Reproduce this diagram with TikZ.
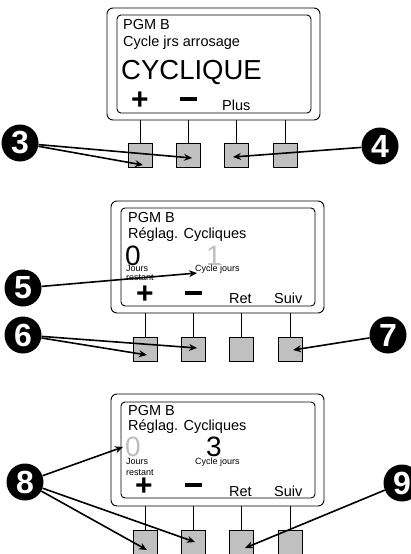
\documentclass[tikz,border=0pt]{standalone}
\usepackage{fontspec}
\setmainfont{Liberation Sans}
\usetikzlibrary{arrows.meta}
\definecolor{keygray}{RGB}{192,192,192}
\definecolor{dimgray}{RGB}{190,190,190}

\begin{document}
\begin{tikzpicture}[x=1pt, y=-1pt,
    panel/.style={draw, rounded corners=6pt, minimum width=213pt, minimum height=112pt, line width=0.9pt},
    screen/.style={rounded corners=4pt, line width=0.9pt},
    key/.style={draw, fill=keygray, minimum size=24pt, inner sep=0pt, line width=0.7pt},
    stem/.style={line width=0.7pt},
    badge/.style={circle, fill=black, text=white, minimum size=37pt, inner sep=0pt, font=\fontsize{32}{32}\selectfont\bfseries},
    pointer/.style={-{Stealth[length=8pt, width=7pt]}, line width=1.6pt},
    lcd/.style={anchor=base west, inner sep=0pt, font=\fontsize{14.5}{15}\selectfont},
    tiny/.style={anchor=base west, inner sep=0pt, font=\fontsize{9}{10}\selectfont},
    big/.style={anchor=base west, inner sep=0pt, font=\fontsize{28}{28}\selectfont},
    plus/.style={inner sep=0pt, font=\fontsize{30}{30}\selectfont\bfseries},
    minus/.style={fill=black, minimum width=17pt, minimum height=4.5pt, inner sep=0pt}]
    \useasboundingbox (0,0) rectangle (411,554);

    % Cycle jrs arrosage
    \begin{scope}[shift={(107,8)}]
        \node[panel] (p1) at (106.5,56) {};
        \draw[screen] (10,7) rectangle (204,105);
        \node[lcd] (p1l1) at (16,21.5) {PGM B};
        \node[lcd] (p1l2) at (16,38.7) {Cycle jrs arrosage};
        \node[lcd, font=\fontsize{27.5}{28}\selectfont] (p1l3) at (14,71) {CYCLIQUE};
        \node[plus] (p1plus) at (33,93) {+};
        \node[minus] (p1minus) at (81.5,91) {};
        \node[lcd] (p1more) at (115,102) {Plus};
        \foreach \i/\x in {1/33,2/81.5,3/129.5,4/178.5} {
            \node[key] (p1b\i) at (\x,147.5) {};
            \draw[stem] (p1b\i.north) -- (p1b\i.north |- p1.south);
        }
        \node[badge] (c3) at (-87,135) {3};
        \node[badge] (c4) at (273,138) {4};
        \coordinate (p1t1) at (36,157);
        \coordinate (p1t2) at (85,150);
        \coordinate (p1t3) at (126,149);
        \draw[pointer] (c3) -- (p1t1);
        \draw[pointer] (c3) -- (p1t2);
        \draw[pointer] (c4) -- (p1t3);
    \end{scope}

    % Reglag. Cycliques, cycle
    \begin{scope}[shift={(111,201)}]
        \node[panel] (p2) at (106.5,56) {};
        \draw[screen] (10,7) rectangle (204,105);
        \node[lcd] (p2l1) at (17,21) {PGM B};
        \node[lcd] (p2l2) at (17,37.3) {Réglag. Cycliques};
        \node[big] (p2left) at (14,64) {0};
        \node[big, text=dimgray] (p2right) at (95,64) {1};
        \node[tiny] (p2lefttxt) at (15,70.7) {Jours};
        \node[tiny] (p2lefttxt2) at (15,79.5) {restant};
        \node[tiny] (p2righttxt) at (84,70.7) {Cycle jours};
        \node[plus] (p2plus) at (34,94) {+};
        \node[minus] (p2minus) at (82,92) {};
        \node[lcd] (p2back) at (118,102.3) {Ret};
        \node[lcd] (p2next) at (163,102.3) {Suiv};
        \foreach \i/\x in {1/34,2/82,3/130,4/179} {
            \node[key] (p2b\i) at (\x,148.5) {};
            \draw[stem] (p2b\i.north) -- (p2b\i.north |- p2.south);
        }
        \node[badge] (c5) at (-88,87) {5};
        \node[badge] (c6) at (-88,134) {6};
        \node[badge] (c7) at (277,134) {7};
        \coordinate (p2t0) at (86,72);
        \coordinate (p2t1) at (36,154);
        \coordinate (p2t2) at (86,147);
        \coordinate (p2t4) at (182,149);
        \draw[pointer] (c5) -- (p2t0);
        \draw[pointer] (c6) -- (p2t1);
        \draw[pointer] (c6) -- (p2t2);
        \draw[pointer] (c7) -- (p2t4);
    \end{scope}

    % Reglag. Cycliques, days left
    \begin{scope}[shift={(111,394)}]
        \node[panel] (p3) at (106.5,56) {};
        \draw[screen] (10,8) rectangle (204,104);
        \node[lcd] (p3l1) at (17,21) {PGM B};
        \node[lcd] (p3l2) at (17,36.7) {Réglag. Cycliques};
        \node[big, text=dimgray] (p3left) at (14,62.7) {0};
        \node[big] (p3right) at (95,62.7) {3};
        \node[tiny] (p3lefttxt) at (15,70) {Jours};
        \node[tiny] (p3lefttxt2) at (15,81) {restant};
        \node[tiny] (p3righttxt) at (84,70) {Cycle jours};
        \node[plus] (p3plus) at (33,93) {+};
        \node[minus] (p3minus) at (82,91) {};
        \node[lcd] (p3back) at (118,102.7) {Ret};
        \node[lcd] (p3next) at (163,102.7) {Suiv};
        \foreach \i/\x in {1/34,2/82,3/130,4/179} {
            \node[key] (p3b\i) at (\x,148) {};
            \draw[stem] (p3b\i.north) -- (p3b\i.north |- p3.south);
        }
        \node[badge] (c8) at (-86,88) {8};
        \node[badge] (c9) at (291,89) {9};
        \coordinate (p3t0) at (12,53);
        \coordinate (p3t1) at (36,156);
        \coordinate (p3t2) at (84,148);
        \coordinate (p3t3) at (134,154);
        \draw[pointer] (c8) -- (p3t0);
        \draw[pointer] (c8) -- (p3t1);
        \draw[pointer] (c8) -- (p3t2);
        \draw[pointer] (c9) -- (p3t3);
    \end{scope}
\end{tikzpicture}
\end{document}
